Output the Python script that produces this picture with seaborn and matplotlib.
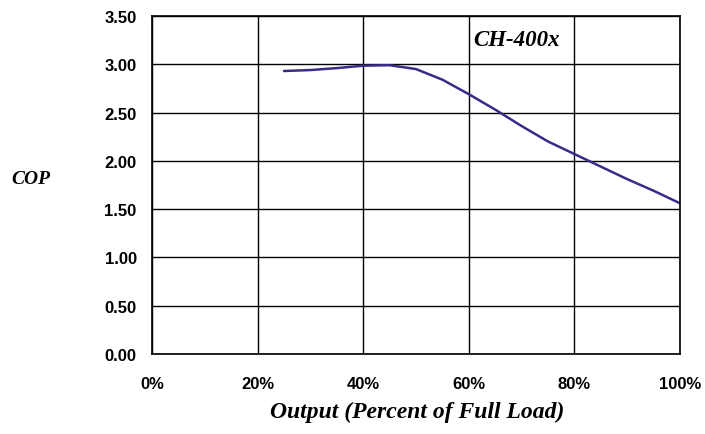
import pandas as pd
import matplotlib
matplotlib.use("Agg")
import matplotlib.pyplot as plt
import seaborn as sns
from matplotlib.ticker import FuncFormatter

# values
load_pct = [25, 30, 35, 40, 45, 50, 55, 60, 65, 70, 75, 80, 85, 90, 95, 100]
cop = [2.93, 2.94, 2.96, 2.985, 2.99, 2.95, 2.84, 2.69, 2.53, 2.36, 2.20, 2.07, 1.94, 1.81, 1.69, 1.56]
x_ticks = [0, 20, 40, 60, 80, 100]
y_ticks = [0.0, 0.5, 1.0, 1.5, 2.0, 2.5, 3.0, 3.5]

df = pd.DataFrame({"Output": load_pct, "COP": cop})

sns.set_style("white")
plt.rcParams['font.family'] = ['Liberation Sans', 'DejaVu Sans']
plt.rcParams['text.color'] = 'black'

fig = plt.figure(figsize=(7.05, 4.35), dpi=100)
ax = fig.add_axes([0.2156, 0.184, 0.749, 0.777])

sns.lineplot(data=df, x="Output", y="COP", ax=ax, color="#3b2a87", linewidth=1.8)

ax.set_xlim(0, 100)
ax.set_ylim(0, 3.5)
ax.set_xticks(x_ticks)
ax.set_yticks(y_ticks)
ax.xaxis.set_major_formatter(FuncFormatter(lambda v, p: f"{v:.0f}%"))
ax.yaxis.set_major_formatter(FuncFormatter(lambda v, p: f"{v:.2f}"))
ax.grid(True, color="black", linewidth=1.0)
ax.set_axisbelow(True)
for s in ax.spines.values():
    s.set_color("black")
    s.set_linewidth(1.2)
ax.tick_params(axis="both", direction="inout", length=8, width=1, color="black",
               labelsize=12, labelcolor="black")
ax.tick_params(axis="x", pad=12)
ax.tick_params(axis="y", pad=7)
for lab in ax.get_xticklabels() + ax.get_yticklabels():
    lab.set_fontweight("bold")

ax.set_xlabel("")
ax.set_ylabel("")
serif = dict(family=["Liberation Serif", "DejaVu Serif"], fontweight="bold",
             fontstyle="italic", color="black")
fig.text(417 / 705, 1 - 412 / 435, "Output (Percent of Full Load)", ha="center",
         va="center", fontsize=17, **serif)
fig.text(31 / 705, 1 - 180 / 435, "COP", ha="center", va="center", fontsize=14, **serif)
ax.text(60.8, 3.26, "CH-400x", ha="left", va="center", fontsize=16.5, **serif)

fig.savefig("out.png", dpi=100)
